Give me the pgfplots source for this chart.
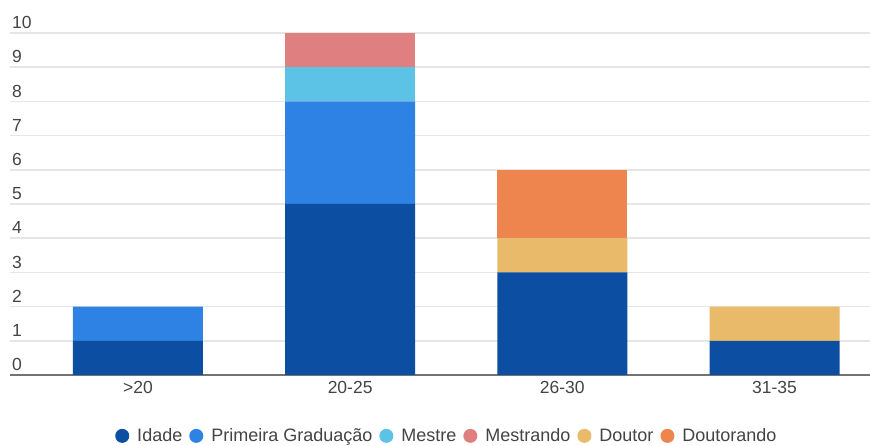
\documentclass[border=0pt]{standalone}
\usepackage{fontspec}
\setmainfont{Liberation Sans}
\usepackage{pgfplots}
\pgfplotsset{compat=1.18}
\definecolor{cIdade}{HTML}{0B4EA2}
\definecolor{cPG}{HTML}{2E82E3}
\definecolor{cMestre}{HTML}{5CC2E6}
\definecolor{cMestrando}{HTML}{E07F80}
\definecolor{cDoutor}{HTML}{E8BA6A}
\definecolor{cDoutorando}{HTML}{EE844E}
\definecolor{txt}{HTML}{444444}
\definecolor{gridc}{HTML}{E6E6E6}
\begin{document}
\begin{tikzpicture}[font=\fontsize{17.5}{20}\selectfont, text=txt]
\begin{axis}[
  scale only axis, width=860pt, height=342pt,
  ybar stacked, bar width=130pt,
  xmin=-0.603, xmax=3.45, ymin=0, ymax=10,
  xtick={0,1,2,3}, xticklabels={>20,20-25,26-30,31-35},
  ytick={0,1,...,10},
  /pgf/number format/assume math mode=true,
  ymajorgrids, grid style={line width=1.5pt, gridc},
  axis x line*=bottom, axis y line*=left,
  x axis line style={line width=1.5pt, color=gray!90!black, -},
  y axis line style={draw=none},
  major tick length=0pt,
  yticklabel style={anchor=south west, inner sep=0pt, xshift=2pt, yshift=4pt},
  xticklabel style={yshift=-3pt},
  legend columns=-1,
  legend style={draw=none, at={(0.508,-0.178)}, anchor=center, font=\fontsize{18}{20}\selectfont,
    /tikz/every even column/.append style={column sep=5pt},
    /tikz/every odd column/.append style={column sep=6pt}},
  legend image code/.code={\fill[#1] (0pt,0pt) circle (7pt);},
]
\addplot[fill=cIdade, draw=none] coordinates {(0,1) (1,5) (2,3) (3,1)};
\addplot[fill=cPG, draw=none] coordinates {(0,1) (1,3) (2,0) (3,0)};
\addplot[fill=cMestre, draw=none] coordinates {(0,0) (1,1) (2,0) (3,0)};
\addplot[fill=cMestrando, draw=none] coordinates {(0,0) (1,1) (2,0) (3,0)};
\addplot[fill=cDoutor, draw=none] coordinates {(0,0) (1,0) (2,1) (3,1)};
\addplot[fill=cDoutorando, draw=none] coordinates {(0,0) (1,0) (2,2) (3,0)};
\legend{Idade, Primeira Graduação, Mestre, Mestrando, Doutor, Doutorando}
\end{axis}
\pgfresetboundingbox
\path ([xshift=-10pt,yshift=-71pt]current axis.south west) rectangle ([yshift=33pt]current axis.north east);
\end{tikzpicture}
\end{document}
